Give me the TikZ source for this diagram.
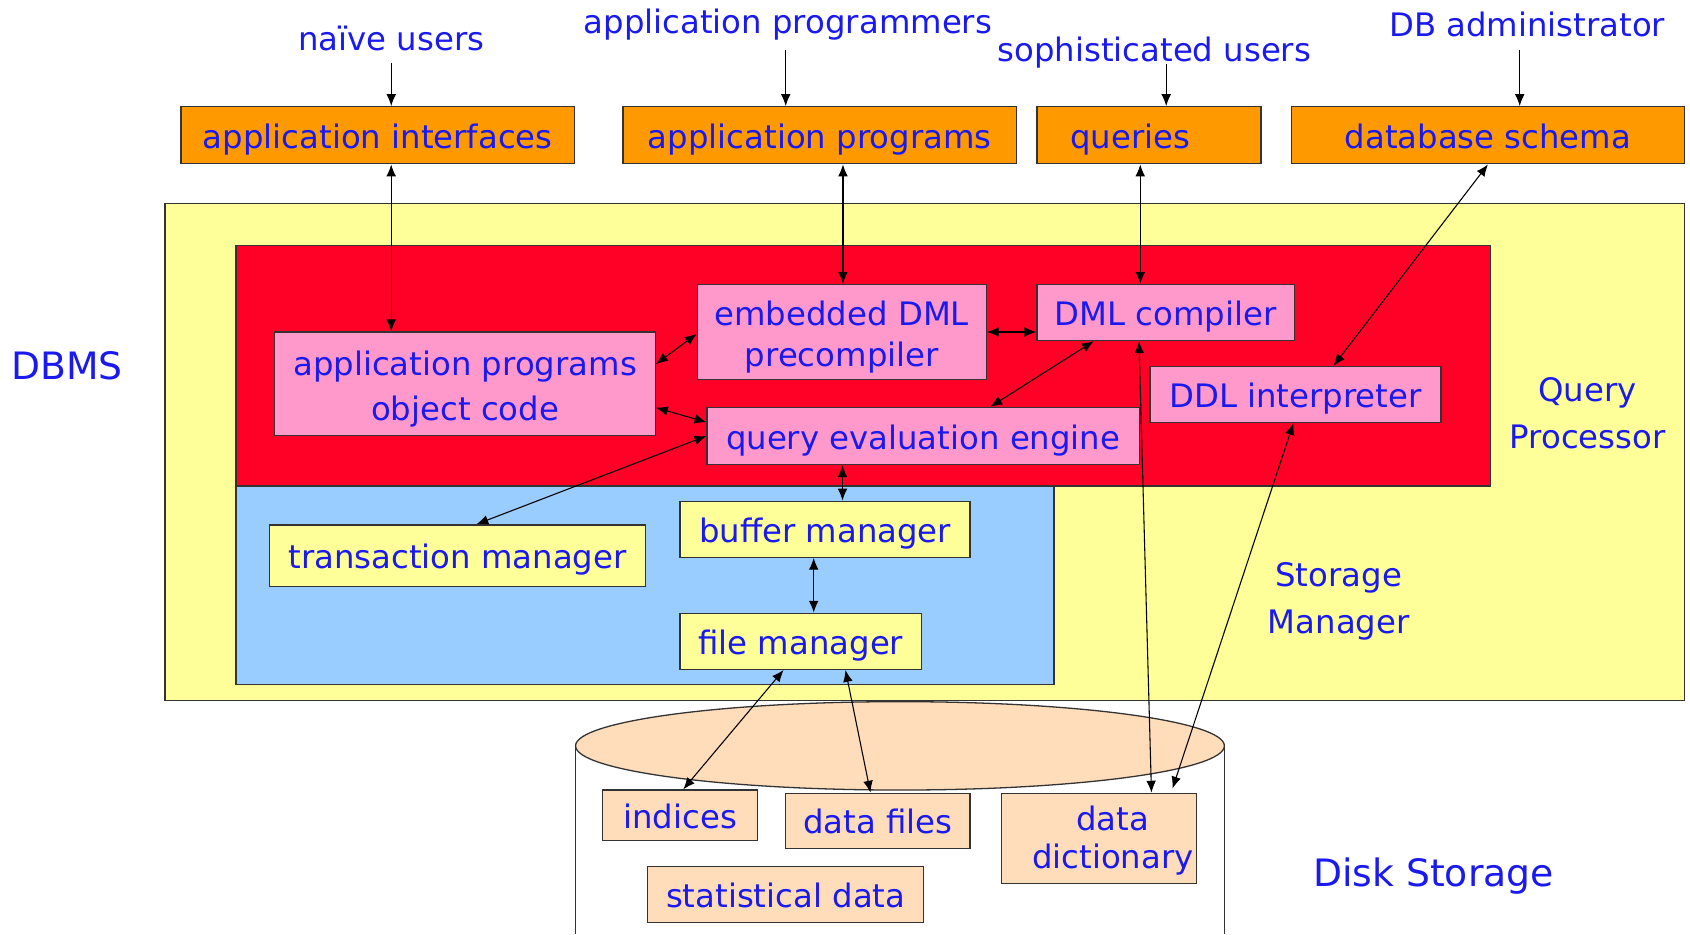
\documentclass[tikz,border=0pt]{standalone}
\usepackage{fontspec}
\setmainfont{DejaVu Sans}
\usetikzlibrary{arrows.meta,fit,calc,shapes.geometric}
\definecolor{tblue}{HTML}{1A1AF0}
\definecolor{orangeA}{HTML}{FF9900}
\definecolor{yellowA}{HTML}{FFFF99}
\definecolor{redA}{HTML}{FF0026}
\definecolor{pinkA}{HTML}{FF99CC}
\definecolor{blueA}{HTML}{99CCFF}
\definecolor{peachA}{HTML}{FFDDBB}
\definecolor{edge}{HTML}{333333}
\tikzset{
  box/.style={draw=edge, line width=0.6pt, inner sep=0pt, text=tblue, align=center,
    font=\fontsize{15}{21}\selectfont},
  one/.style={text height=13.6pt, text depth=1.4pt},
  obox/.style={box, fill=orangeA},
  pbox/.style={box, fill=pinkA},
  ybox/.style={box, fill=yellowA},
  cbox/.style={box, fill=peachA},
  region/.style={draw=edge, line width=0.6pt, inner sep=0pt},
  lbl/.style={text=tblue, inner sep=0pt, align=center, font=\fontsize{15}{21}\selectfont},
  biglbl/.style={text=tblue, inner sep=0pt, align=center, font=\fontsize{17.5}{22}\selectfont},
  link/.style={{Latex[length=5.5pt,width=4.5pt]}-{Latex[length=5.5pt,width=4.5pt]}, line width=0.5pt},
  feed/.style={-{Latex[length=5.5pt,width=4.5pt]}, line width=0.5pt},
}
\begin{document}
\begin{tikzpicture}[x=0.5pt,y=-0.5pt]
\useasboundingbox (0,0) rectangle (1568,867);

% regions
\node[region, fill=yellowA, fit={(153,189) (1563,650)}] (dbms) {};
\node[region, fill=redA, fit={(219,228) (1383,451)}] (qp) {};
\node[region, fill=blueA, fit={(219,451) (978,635)}] (sm) {};

% disk storage cylinder
\fill[white] (534,692) -- (534,867) -- (1136,867) -- (1136,692) -- cycle;
\draw[edge, line width=0.6pt] (534,692) -- (534,867) (1136,692) -- (1136,867);
\node[draw=edge, line width=0.6pt, fill=peachA, ellipse, minimum width=301pt, minimum height=41pt, inner sep=0pt] (disk) at (835,692) {};

% labels
\node[lbl] (nu) at (363,36) {naïve users};
\node[lbl] (apg) at (731,23) {application programmers};
\node[lbl] (su) at (1071,49) {sophisticated users};
\node[lbl] (dba) at (1417,23) {DB administrator};
\node[biglbl] (dbmsl) at (62,339) {DBMS};
\node[lbl, font=\fontsize{15}{21.5}\selectfont] (qpl) at (1473,383.5) {Query\\Processor};
\node[lbl, font=\fontsize{15}{22}\selectfont] (sml) at (1242,558) {Storage\\Manager};
\node[biglbl] (dsl) at (1330,813) {Disk Storage};

% orange boxes
\node[obox, one, minimum width=182.5pt, minimum height=26.5pt] (ai) at (350.5,125.5) {application interfaces};
\node[obox, one, minimum width=182.5pt, minimum height=26.5pt] (ap) at (760.5,125.5) {application programs};
\node[obox, one, minimum width=104pt, minimum height=26.5pt, text width=73pt, align=left] (qu) at (1066,125.5) {queries};
\node[obox, one, minimum width=182.5pt, minimum height=26.5pt] (ds) at (1380.5,125.5) {database schema};

% pink boxes
\node[pbox, minimum width=176.5pt, minimum height=48pt] (apoc) at (431.5,356) {\rule{0pt}{16.4pt}application programs\\object code};
\node[pbox, minimum width=134pt, minimum height=44pt, font=\fontsize{15}{19}\selectfont] (edml) at (781,308) {\rule{0pt}{15.9pt}embedded DML\\precompiler};
\node[pbox, one, minimum width=119.5pt, minimum height=26pt] (dmlc) at (1081.5,290) {DML compiler};
\node[pbox, one, minimum width=200.5pt, minimum height=26.5pt] (qee) at (856.5,404.5) {query evaluation engine};
\node[pbox, one, minimum width=135pt, minimum height=26pt] (ddl) at (1202,366) {DDL interpreter};

% storage manager boxes
\node[ybox, one, minimum width=174.5pt, minimum height=28.5pt] (tm) at (424.5,515.5) {transaction manager};
\node[ybox, one, minimum width=134.5pt, minimum height=26pt] (bm) at (765.5,491) {buffer manager};
\node[ybox, one, minimum width=112pt, minimum height=26pt] (fm) at (743,595) {file manager};

% disk boxes
\node[cbox, one, minimum width=72pt, minimum height=23.5pt] (idx) at (631,756.5) {indices};
\node[cbox, one, minimum width=85.5pt, minimum height=25.5pt] (df) at (814.5,761.5) {data files};
\node[cbox, minimum width=90.5pt, minimum height=42pt, font=\fontsize{15}{17.5}\selectfont] (dd) at (1019.5,778) {\hspace*{13pt}\rule{0pt}{13.4pt}data\\\hspace*{13pt}dictionary};
\node[cbox, one, minimum width=128pt, minimum height=26pt] (sd) at (729,830) {statistical data};

% user arrows
\coordinate (nuT) at (363,58);
\coordinate (apgT) at (729,46);
\coordinate (suT) at (1082,59);
\coordinate (dbaT) at (1410,46);
\draw[feed] (nuT) -- (nuT |- ai.north);
\draw[feed] (apgT) -- (apgT |- ap.north);
\draw[feed] (suT) -- (suT |- qu.north);
\draw[feed] (dbaT) -- (dbaT |- ds.north);

% connector anchor points
\path ($(ai.south west)!0.534!(ai.south east)$) coordinate (a5);
\path ($(ap.south west)!0.559!(ap.south east)$) coordinate (a6);
\path ($(qu.south west)!0.4615!(qu.south east)$) coordinate (a7);
\path ($(ds.south west)!0.5!(ds.south east)$) coordinate (a8);
\path ($(ddl.north west)!0.63!(ddl.north east)$) coordinate (b8);
\path ($(apoc.north east)!0.3125!(apoc.south east)$) coordinate (a9);
\path ($(edml.north west)!0.52!(edml.south west)$) coordinate (b9);
\path ($(dmlc.south west)!0.222!(dmlc.south east)$) coordinate (a11);
\path ($(qee.north west)!0.655!(qee.north east)$) coordinate (b11);
\path ($(apoc.north east)!0.729!(apoc.south east)$) coordinate (a12);
\path ($(qee.north west)!0.264!(qee.south west)$) coordinate (b12);
\path ($(tm.north west)!0.55!(tm.north east)$) coordinate (b13);
\path ($(qee.south west)!0.314!(qee.south east)$) coordinate (a14);
\path ($(bm.south west)!0.461!(bm.south east)$) coordinate (a15);
\path ($(fm.south west)!0.429!(fm.south east)$) coordinate (a16);
\path ($(idx.north west)!0.52!(idx.north east)$) coordinate (b16);
\path ($(fm.south west)!0.684!(fm.south east)$) coordinate (a17);
\path ($(df.north west)!0.46!(df.north east)$) coordinate (b17);
\path ($(dmlc.south west)!0.397!(dmlc.south east)$) coordinate (a18);
\path ($(dd.north west)!0.768!(dd.north east)$) coordinate (b18);
\path ($(ddl.south west)!0.493!(ddl.south east)$) coordinate (a19);
\path ($(dd.north west)!0.868!(dd.north east)$) coordinate (b19);

% connectors
\draw[link] (a5) -- (a5 |- apoc.north);
\draw[link] (a6) -- (a6 |- edml.north);
\draw[link] (a7) -- (a7 |- dmlc.north);
\draw[link] (a8) -- (b8);
\draw[link] (a9) -- (b9);
\draw[link] (edml.east) -- (edml.east -| dmlc.west);
\draw[link] (a11) -- (b11);
\draw[link] (a12) -- (b12);
\draw[link] (qee.west) -- (b13);
\draw[link] (a14) -- (a14 |- bm.north);
\draw[link] (a15) -- (a15 |- fm.north);
\draw[link] (a16) -- (b16);
\draw[link] (a17) -- (b17);
\draw[link] (a18) -- (b18);
\draw[link, shorten >=2pt] (a19) -- (b19);
\end{tikzpicture}
\end{document}
